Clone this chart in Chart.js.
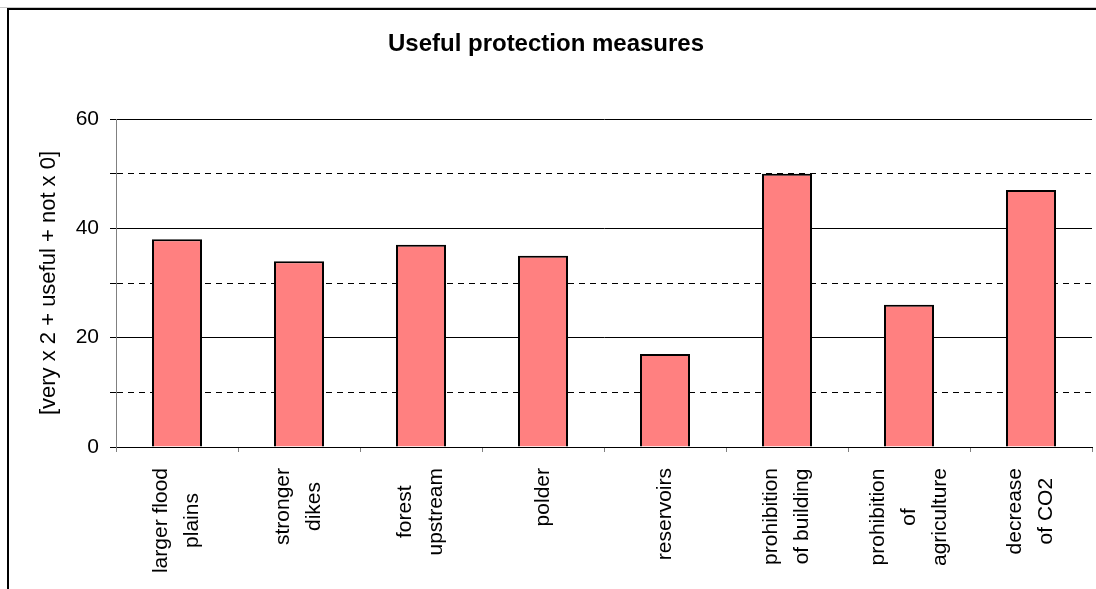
<!DOCTYPE html>
<html>
<head>
<meta charset="utf-8">
<title>Useful protection measures</title>
<script src="https://cdn.jsdelivr.net/npm/chart.js@4.4.1/dist/chart.umd.min.js"></script>
<style>
  html, body { margin: 0; padding: 0; background: #ffffff; }
  #wrap { width: 1096px; height: 589px; }
</style>
</head>
<body>
<div id="wrap"><canvas id="chart" width="1096" height="589"></canvas></div>
<script>
// Protection measures (multi-line category labels)
const categories = [
  ["larger flood", "plains"],
  ["stronger", "dikes"],
  ["forest", "upstream"],
  ["polder"],
  ["reservoirs"],
  ["prohibition", "of building"],
  ["prohibition", "of", "agriculture"],
  ["decrease", "of CO2"]
];
// Weighted score: very x 2 + useful + not x 0
const scores = [38, 34, 37, 35, 17, 50, 26, 47];
// Value axis ticks; only the labelled ones carry text and solid grid lines
const yTickValues = [0, 10, 20, 30, 40, 50, 60];
const yTickLabels = [0, 20, 40, 60];

const FONT = '"Liberation Sans", Arial, Helvetica, sans-serif';

// White page with the framed border along the top and left
const framePlugin = {
  id: 'frame',
  beforeDraw(chart) {
    const c = chart.ctx;
    c.save();
    c.fillStyle = '#ffffff';
    c.fillRect(0, 0, chart.width, chart.height);
    c.fillStyle = '#c8c8c8';
    c.fillRect(0, 7, chart.width, 1);
    c.fillStyle = '#000000';
    c.fillRect(7, 8, chart.width - 7, 2);
    c.fillRect(7, 8, 2, chart.height - 8);
    c.restore();
  }
};

// Vertical category labels, each line centred inside its block
const categoryLabelPlugin = {
  id: 'categoryLabels',
  afterDraw(chart) {
    const xs = chart.scales.x;
    const c = chart.ctx;
    const lineGap = 31;
    c.save();
    c.font = '21px ' + FONT;
    c.fillStyle = '#000000';
    c.textAlign = 'center';
    c.textBaseline = 'middle';
    categories.forEach((lines, i) => {
      const cx = xs.getPixelForValue(i);
      const maxW = Math.max(...lines.map(l => c.measureText(l).width));
      const cy = xs.top + 21 + maxW / 2;
      lines.forEach((line, j) => {
        const lx = cx + (j - (lines.length - 1) / 2) * lineGap;
        c.save();
        c.translate(lx, cy);
        c.rotate(-Math.PI / 2);
        c.fillText(line, 0, 0);
        c.restore();
      });
    });
    c.restore();
  }
};

const isMinor = v => yTickLabels.indexOf(v) === -1;

new Chart(document.getElementById('chart'), {
  type: 'bar',
  data: {
    labels: categories.map(l => l.join(' ')),
    datasets: [{
      label: 'Useful protection measures',
      data: scores,
      backgroundColor: '#FF8080',
      borderColor: '#000000',
      borderWidth: 2,
      borderSkipped: 'start',
      barPercentage: 0.41,
      categoryPercentage: 1.0
    }]
  },
  options: {
    responsive: false,
    animation: false,
    devicePixelRatio: 1,
    layout: { padding: { left: 0, right: 4, top: 0, bottom: 0 } },
    plugins: {
      legend: { display: false },
      tooltip: { enabled: false },
      title: {
        display: true,
        text: 'Useful protection measures',
        color: '#000000',
        font: { family: FONT, size: 24, weight: 'bold', lineHeight: 1.2 },
        padding: { top: 30, bottom: 60.2 }
      }
    },
    scales: {
      x: {
        type: 'category',
        offset: true,
        ticks: { display: false },
        grid: {
          offset: true,
          drawOnChartArea: false,
          drawTicks: true,
          tickLength: 5,
          tickColor: '#808080',
          tickWidth: 1
        },
        border: { display: true, color: '#000000', width: 1 },
        afterFit(scale) { scale.height = 142; }
      },
      y: {
        min: 0,
        max: 60,
        afterBuildTicks(scale) {
          scale.ticks = yTickValues.map(v => ({ value: v }));
        },
        ticks: {
          color: '#000000',
          font: { family: FONT, size: 21 },
          padding: 11,
          callback: v => (isMinor(v) ? '' : String(v))
        },
        grid: {
          color: '#000000',
          lineWidth: 1,
          drawTicks: true,
          tickLength: 6,
          tickColor: '#000000'
        },
        border: {
          display: true,
          color: '#808080',
          width: 1,
          dash: ctx => (ctx.tick && isMinor(ctx.tick.value) ? [6, 5] : [])
        },
        title: {
          display: true,
          text: '[very x 2 + useful + not x 0]',
          color: '#000000',
          font: { family: FONT, size: 22, lineHeight: 1.2 },
          padding: { top: 36, bottom: 0 }
        },
        afterFit(scale) { scale.width = 116; }
      }
    }
  },
  plugins: [framePlugin, categoryLabelPlugin]
});
</script>
</body>
</html>
